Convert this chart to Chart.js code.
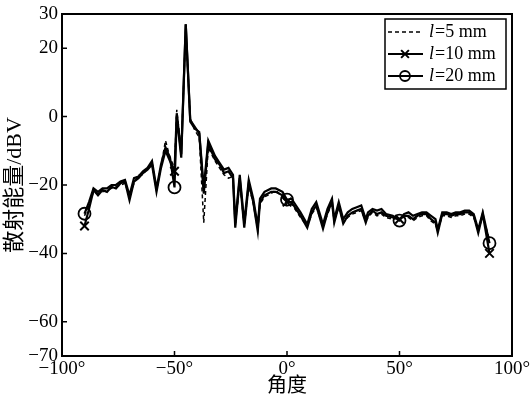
<!DOCTYPE html>
<html><head><meta charset="utf-8">
<script src="https://cdn.jsdelivr.net/npm/chart.js@4/dist/chart.umd.min.js"></script>
<style>html,body{margin:0;padding:0;background:#fff;}canvas{display:block;}</style>
</head><body>
<canvas id="c" width="532" height="405"></canvas>
<script>
const angles = [-90,-88,-86,-84,-82,-80,-78,-76,-74,-72,-70,-68,-66,-64,-62,-60,-58,-56,-54,-52,-50,-49,-47,-45,-43,-41,-39,-37,-35,-32,-30,-28,-26,-24,-23,-21,-19,-17,-15,-13,-12,-10,-7,-5,-2,0,2,4,6,9,11,13,16,18,20,21,23,25,27,29,31,33,35,36,38,40,42,44,47,50,52,54,56,58,60,62,64,66,67,69,71,73,75,77,79,81,83,85,87,90];
const l5 = [-29,-26,-22,-22.5,-22,-21.5,-21,-20.5,-20,-19.5,-23.5,-19.5,-17,-17,-15,-13.5,-21.5,-14.5,-7,-12,-15,2,-10,26,-0.5,-4,-6,-31,-9,-13,-15,-17,-18,-17.5,-32,-19,-32,-20,-25.5,-33,-25.5,-23.5,-22.5,-21.5,-23.5,-26,-25.5,-27.5,-29.5,-32,-28.5,-26.5,-32,-28.5,-25.5,-30.5,-26.5,-31,-29.5,-28.5,-28,-27.5,-30.5,-29.5,-28,-29,-28.5,-29.5,-30,-29.5,-29.5,-29.5,-30.5,-29.5,-29,-29,-30.5,-31.5,-33.5,-29,-29,-29.5,-29,-29,-28.5,-28.5,-29.5,-33.5,-29,-36];
const l10 = [-32,-27,-21.5,-23,-21.5,-22,-20.5,-21,-19.5,-19,-24.5,-19,-18,-16.5,-15.5,-14,-22,-15,-10,-13,-16,1,-11,27,-1,-3,-5,-22.5,-8,-12.5,-14,-16.5,-16,-18,-32.5,-18,-32.5,-19.5,-25,-33.5,-25,-23,-22,-22,-23,-25,-25,-27,-29,-32.5,-28,-26,-32.8,-28,-25,-31,-26,-31.3,-29,-28,-27.5,-27,-31,-29,-27.5,-28.5,-28,-29,-29.5,-30,-29,-29,-30,-29,-28.5,-28.5,-30,-31,-34,-28.5,-28.5,-29,-28.5,-28.5,-28,-28,-29,-34,-28.5,-40];
const l20 = [-28.4,-25,-21,-22,-21,-21,-20,-20,-19,-18.5,-23,-18,-17.5,-16,-15,-13,-21,-14,-9,-12,-20.7,0,-12,27,-1.5,-3.5,-4.5,-21,-7,-11.5,-13.5,-15.5,-15,-17,-31,-17,-31,-18.5,-24,-32,-24,-22,-21,-21,-22,-24.3,-24,-26,-28,-31.5,-27,-25,-31.5,-27,-24,-30,-25,-30,-28,-27,-26.5,-26,-30,-28,-27,-27.5,-27,-28.5,-29,-30.4,-28.5,-28,-29,-28.5,-28,-28,-29,-30,-33,-28,-28,-28.5,-28,-28,-27.5,-27.5,-28.5,-33,-28,-37];
const markerAngles = [-90,-50,0,50,90];
const xTicks = [-100,-50,0,50,100];
const yTicks = [30,20,0,-20,-40,-60,-70];
const seriesNames = ['=5 mm','=10 mm','=20 mm'];

const SERIF = "'Liberation Serif','Noto Sans CJK SC',serif";
const fmt = v => (v < 0 ? '\u2212' + Math.abs(v) : String(v));
const pts = arr => arr.map((v,i)=>({x:angles[i], y:v}));
const mk = r => ctx => (ctx.raw && markerAngles.includes(ctx.raw.x) ? r : 0);

const datasets = [
  {label:'l'+seriesNames[0], data:pts(l5), borderColor:'#000', borderWidth:1.5, borderDash:[4,3], pointRadius:0, pointStyle:false},
  {label:'l'+seriesNames[1], data:pts(l10), borderColor:'#000', borderWidth:2.2, pointStyle:'crossRot', pointRadius:mk(6), pointBorderWidth:2, pointBorderColor:'#000', pointBackgroundColor:'rgba(0,0,0,0)'},
  {label:'l'+seriesNames[2], data:pts(l20), borderColor:'#000', borderWidth:2.2, pointStyle:'circle', pointRadius:mk(6), pointBorderWidth:1.8, pointBorderColor:'#000', pointBackgroundColor:'rgba(0,0,0,0)'}
];

const framePlugin = {
  id:'frame',
  afterDraw(chart){
    const ctx = chart.ctx, ca = chart.chartArea;
    const xs = chart.scales.x, ys = chart.scales.y;
    ctx.save();
    ctx.strokeStyle = '#000';
    ctx.lineWidth = 2;
    ctx.strokeRect(ca.left, ca.top, ca.right-ca.left, ca.bottom-ca.top);
    ctx.lineWidth = 1.5;
    ctx.beginPath();
    xs.ticks.forEach(t=>{const p = xs.getPixelForValue(t.value); ctx.moveTo(p, ca.bottom); ctx.lineTo(p, ca.bottom-5);});
    ys.ticks.forEach(t=>{const p = ys.getPixelForValue(t.value); ctx.moveTo(ca.left, p); ctx.lineTo(ca.left+5, p);});
    ctx.stroke();
    // legend
    const bx = 385, by = 19, bw = 121, bh = 70;
    ctx.fillStyle = '#fff';
    ctx.fillRect(bx, by, bw, bh);
    ctx.lineWidth = 1.5;
    ctx.strokeRect(bx, by, bw, bh);
    chart.data.datasets.forEach((ds, i)=>{
      const y = by + 13 + i*22;
      ctx.save();
      ctx.strokeStyle = '#000';
      ctx.lineWidth = ds.borderWidth;
      ctx.setLineDash(ds.borderDash || []);
      ctx.beginPath(); ctx.moveTo(bx+3, y); ctx.lineTo(bx+38, y); ctx.stroke();
      ctx.setLineDash([]);
      if (ds.pointStyle) {
        ctx.lineWidth = ds.pointBorderWidth;
        ctx.strokeStyle = '#000';
        ctx.fillStyle = 'rgba(0,0,0,0)';
        Chart.helpers.drawPoint(ctx, {pointStyle: ds.pointStyle, radius: ds.pointStyle==='circle'?5:5.5, borderWidth: ds.pointBorderWidth}, bx+20, y);
      }
      ctx.fillStyle = '#000';
      ctx.textBaseline = 'middle';
      ctx.textAlign = 'left';
      ctx.font = "italic 18px 'Liberation Serif'";
      ctx.fillText('l', bx+44, y);
      const w = ctx.measureText('l').width;
      ctx.font = "18px 'Liberation Serif'";
      ctx.fillText(seriesNames[i], bx+44+w+1, y);
      ctx.restore();
    });
    ctx.restore();
  }
};

new Chart(document.getElementById('c'), {
  type:'line',
  data:{datasets},
  options:{
    responsive:false, devicePixelRatio:1, animation:false,
    layout:{padding:{top:14, right:20, left:0, bottom:0}},
    elements:{line:{tension:0}},
    plugins:{legend:{display:false}, tooltip:{enabled:false}},
    scales:{
      x:{type:'linear', min:-100, max:100,
        grid:{display:false, drawTicks:false}, border:{display:false},
        afterBuildTicks: s => { s.ticks = xTicks.map(v=>({value:v})); },
        afterFit: s => { s.height = 49; s.paddingLeft = 0; s.paddingRight = 0; },
        ticks:{color:'#000', padding:2, maxRotation:0, autoSkip:false, font:{family:SERIF, size:19}, callback:v=>fmt(v)+'\u00b0'},
        title:{display:true, text:'角度', color:'#000', font:{family:SERIF, size:20}, padding:{top:0,bottom:6}}
      },
      y:{type:'linear', min:-70, max:30,
        grid:{display:false, drawTicks:false}, border:{display:false},
        afterBuildTicks: s => { s.ticks = yTicks.map(v=>({value:v})); },
        afterFit: s => { s.width = 62; s.paddingTop = 0; s.paddingBottom = 0; },
        ticks:{color:'#000', padding:4, autoSkip:false, font:{family:SERIF, size:19}, callback:v=>fmt(v)},
        title:{display:true, text:'散射能量/dBV', color:'#000', font:{family:SERIF, size:22}, padding:{top:2,bottom:0}}
      }
    }
  },
  plugins:[framePlugin]
});
</script>
</body></html>
